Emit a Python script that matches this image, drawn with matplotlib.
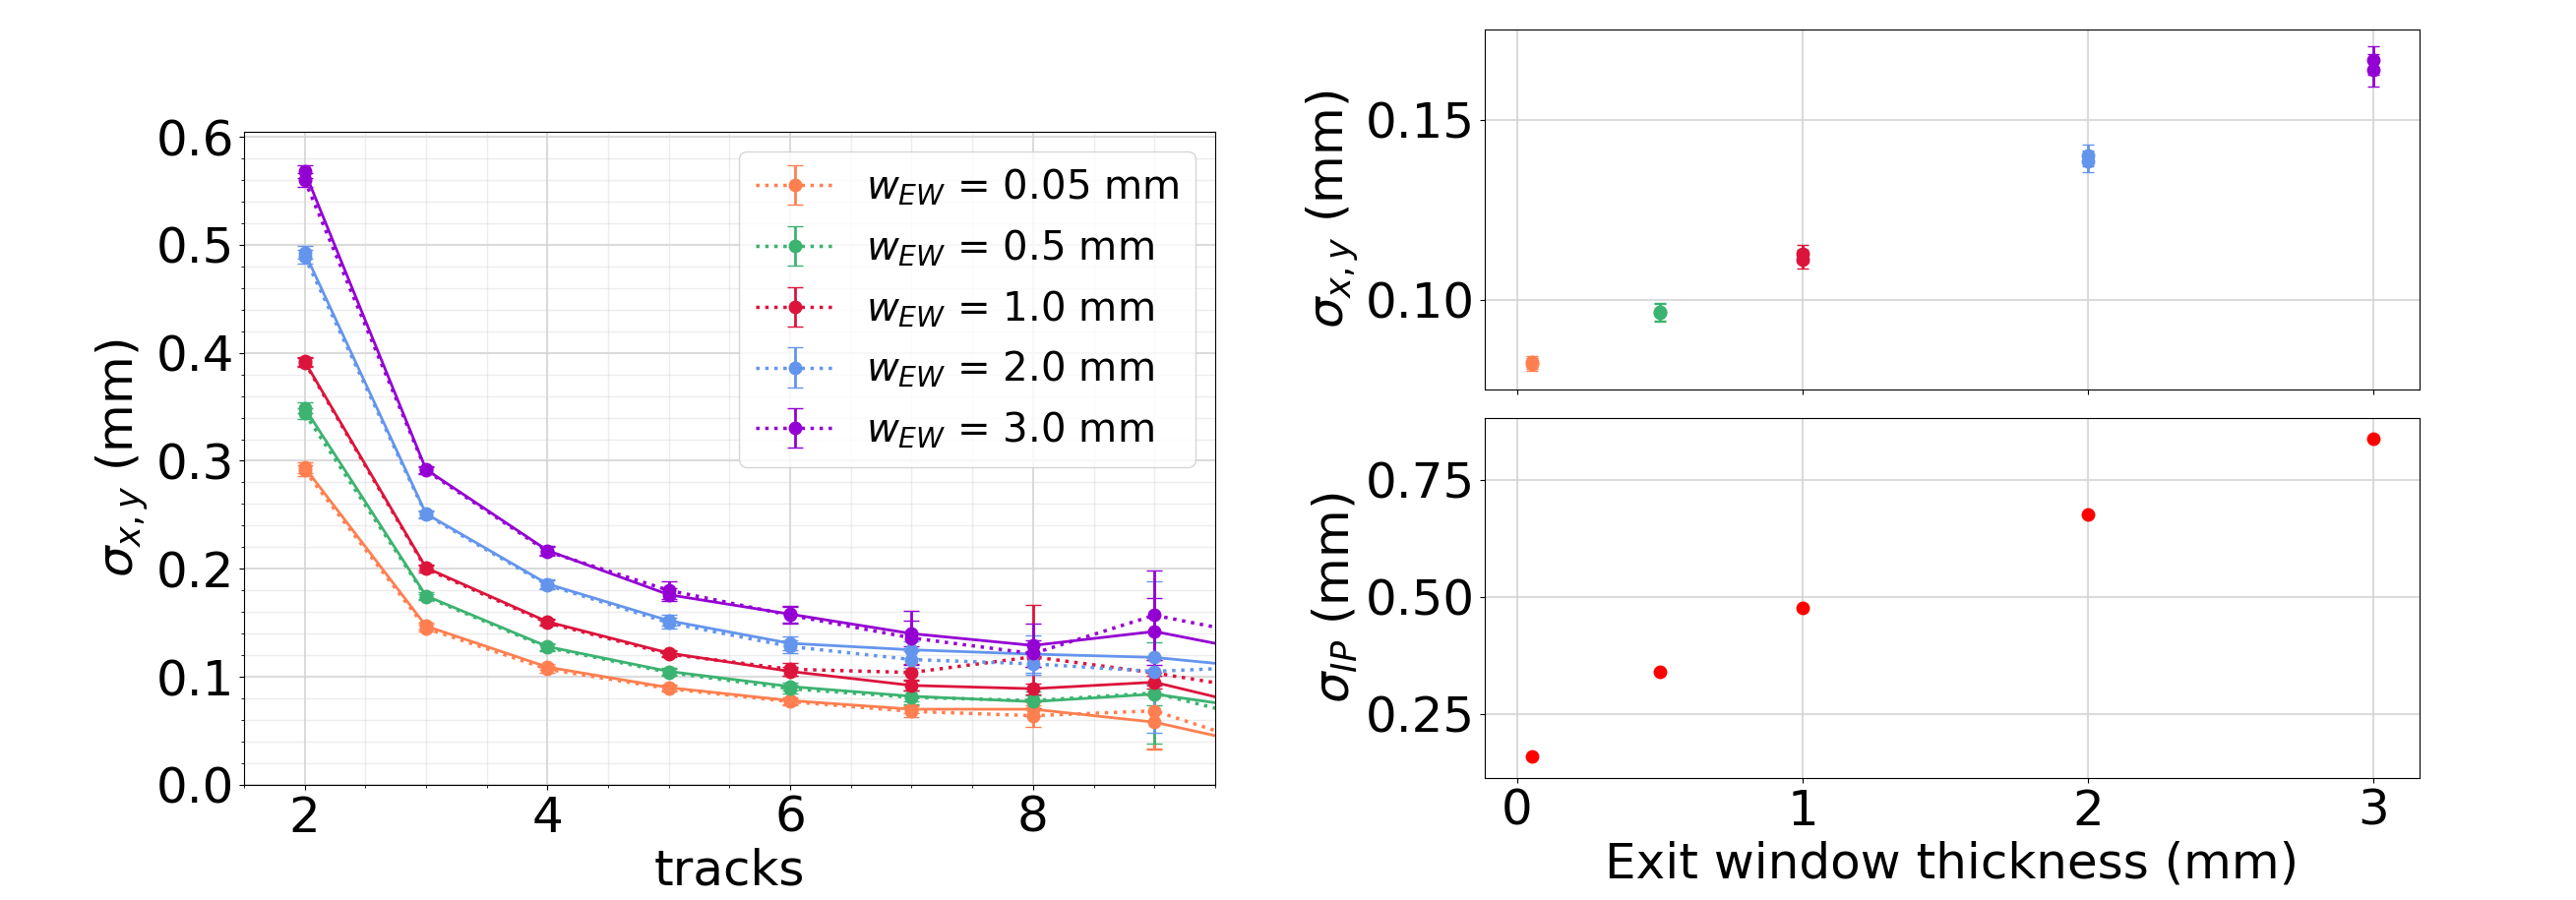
import numpy as np
import matplotlib
matplotlib.use("Agg")
import matplotlib.pyplot as plt
from matplotlib.ticker import MultipleLocator, AutoMinorLocator

# left panel: resolution vs number of tracks, two sets per exit window
tracks = [2, 3, 4, 5, 6, 7, 8, 9, 10]
windows = [0.05, 0.5, 1.0, 2.0, 3.0]
colors = ["coral", "mediumseagreen", "crimson", "cornflowerblue", "darkviolet"]

sig_solid = [
    [0.294, 0.147, 0.109, 0.090, 0.078, 0.070, 0.070, 0.058, 0.033],
    [0.349, 0.175, 0.128, 0.105, 0.091, 0.082, 0.077, 0.084, 0.068],
    [0.392, 0.201, 0.151, 0.122, 0.105, 0.092, 0.089, 0.095, 0.068],
    [0.493, 0.251, 0.186, 0.152, 0.131, 0.125, 0.121, 0.118, 0.107],
    [0.568, 0.292, 0.217, 0.176, 0.158, 0.140, 0.129, 0.142, 0.120],
]
err_solid = [
    [0.005, 0.003, 0.003, 0.003, 0.003, 0.004, 0.006, 0.025, 0.020],
    [0.005, 0.003, 0.003, 0.003, 0.004, 0.005, 0.006, 0.010, 0.010],
    [0.004, 0.003, 0.003, 0.003, 0.004, 0.005, 0.005, 0.006, 0.010],
    [0.006, 0.003, 0.004, 0.005, 0.006, 0.008, 0.017, 0.070, 0.020],
    [0.006, 0.003, 0.004, 0.006, 0.008, 0.012, 0.020, 0.031, 0.020],
]
sig_dotted = [
    [0.291, 0.145, 0.107, 0.089, 0.077, 0.068, 0.064, 0.0685, 0.032],
    [0.344, 0.174, 0.127, 0.104, 0.089, 0.081, 0.078, 0.085, 0.057],
    [0.391, 0.200, 0.150, 0.121, 0.107, 0.104, 0.1185, 0.1036, 0.0855],
    [0.489, 0.250, 0.185, 0.150, 0.128, 0.116, 0.112, 0.105, 0.110],
    [0.560, 0.291, 0.216, 0.180, 0.157, 0.136, 0.1215, 0.157, 0.135],
]
err_dotted = [
    [0.005, 0.003, 0.003, 0.003, 0.003, 0.005, 0.010, 0.035, 0.030],
    [0.005, 0.003, 0.003, 0.003, 0.004, 0.006, 0.008, 0.047, 0.030],
    [0.004, 0.003, 0.003, 0.003, 0.006, 0.008, 0.048, 0.012, 0.020],
    [0.006, 0.003, 0.004, 0.005, 0.006, 0.008, 0.010, 0.012, 0.020],
    [0.006, 0.003, 0.004, 0.008, 0.008, 0.025, 0.012, 0.041, 0.030],
]

# right top: sigma_xy vs exit window thickness (two estimates)
sxy_a = [0.0826, 0.0965, 0.1128, 0.1399, 0.1664]
sxy_b = [0.0820, 0.0963, 0.1112, 0.1385, 0.1637]
sxy_err_a = [0.0018, 0.0025, 0.0025, 0.0030, 0.0040]
sxy_err_b = [0.0018, 0.0025, 0.0025, 0.0030, 0.0045]

# right bottom: sigma_IP vs exit window thickness
sig_ip = [0.159, 0.341, 0.477, 0.676, 0.837]

plt.rcParams['font.size'] = 36

fig = plt.figure(figsize=(26.18, 9.15), dpi=100)
ax = fig.add_axes([0.0947, 0.128, 0.377, 0.726])
ax_top = fig.add_axes([0.5764, 0.5672, 0.3629, 0.40])
ax_bot = fig.add_axes([0.5764, 0.1355, 0.3629, 0.40], sharex=ax_top)

for i in range(len(windows)):
    ax.errorbar(tracks, sig_solid[i], yerr=err_solid[i], fmt='o-', color=colors[i],
                lw=2, ms=9, capsize=6, elinewidth=2)
    ax.errorbar(tracks, sig_dotted[i], yerr=err_dotted[i], fmt='o:', color=colors[i],
                lw=2.5, ms=9, capsize=6, elinewidth=2,
                label=r'$w_{EW}$ = ' + str(windows[i]) + ' mm')

ax.set_xlim(1.5, 9.5)
ax.set_ylim(0, 0.605)
ax.xaxis.set_major_locator(MultipleLocator(2))
ax.xaxis.set_minor_locator(AutoMinorLocator(4))
ax.yaxis.set_major_locator(MultipleLocator(0.1))
ax.yaxis.set_minor_locator(AutoMinorLocator(5))
ax.grid(which='major', color='lightgray', lw=1.5, alpha=0.8)
ax.grid(which='minor', color='lightgray', lw=1, alpha=0.4)
ax.set_xlabel("tracks")
ax.set_ylabel(r"$\sigma_{x,y}$ (mm)")
ax.legend(loc='upper right', fontsize=29)

for i in range(len(windows)):
    ax_top.errorbar(windows[i], sxy_a[i], yerr=sxy_err_a[i], fmt='o', color=colors[i],
                    ms=9, capsize=4.5, elinewidth=2)
    ax_top.errorbar(windows[i], sxy_b[i], yerr=sxy_err_b[i], fmt='o', color=colors[i],
                    ms=9, capsize=4.5, elinewidth=2)
ax_top.set_ylim(0.075, 0.175)
ax_top.set_yticks([0.10, 0.15])
ax_top.set_ylabel(r"$\sigma_{x,y}$ (mm)")
ax_top.grid(color='lightgray', lw=1.5, alpha=0.8)
ax_top.tick_params(labelbottom=False)

ax_bot.plot(windows, sig_ip, 'o', color='red', ms=9)
ax_bot.set_xlim(-0.114, 3.162)
ax_bot.set_ylim(0.113, 0.882)
ax_bot.set_yticks([0.25, 0.50, 0.75])
ax_bot.set_xticks([0, 1, 2, 3])
ax_bot.set_ylabel(r"$\sigma_{IP}$ (mm)")
ax_bot.set_xlabel("Exit window thickness (mm)")
ax_bot.grid(color='lightgray', lw=1.5, alpha=0.8)

fig.savefig("out.png", dpi=100)
